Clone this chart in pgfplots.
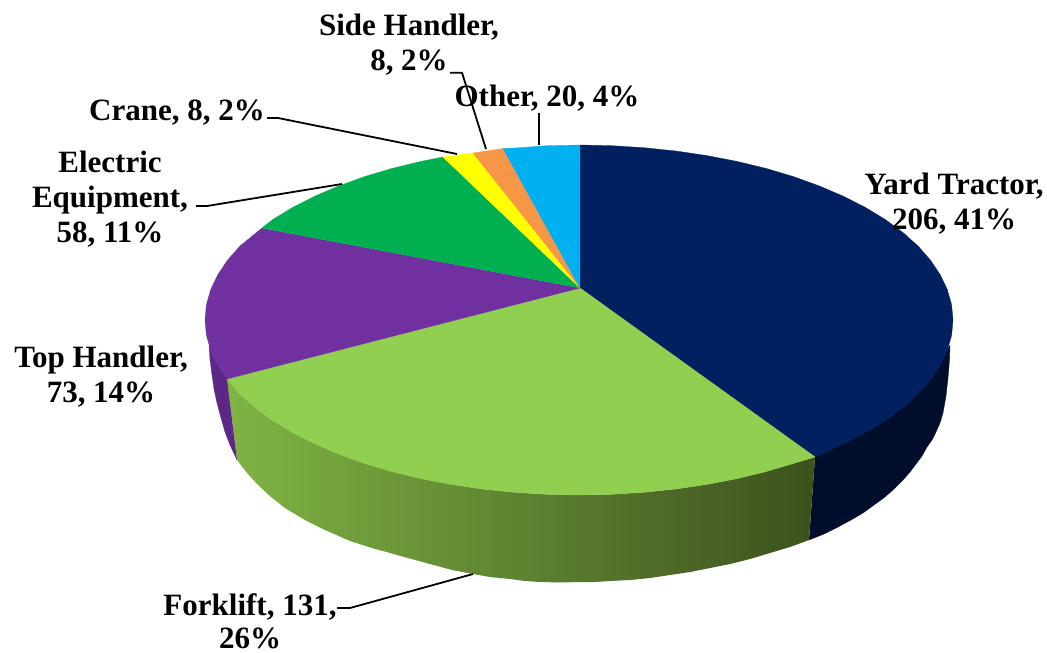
\documentclass[border=0pt]{standalone}
\usepackage{pgfplots}
\pgfplotsset{compat=1.18}
\usepackage{fontspec}
\setmainfont{Liberation Serif}
\definecolor{navy}{HTML}{002060}
\definecolor{navyside}{HTML}{000D2B}
\definecolor{lime}{HTML}{90CF50}
\definecolor{limeL}{HTML}{80B444}
\definecolor{limeR}{HTML}{3C511D}
\definecolor{purp}{HTML}{7030A0}
\definecolor{purpside}{HTML}{5C2785}
\definecolor{grn}{HTML}{00B050}
\definecolor{yel}{HTML}{FFFF00}
\definecolor{org}{HTML}{F79646}
\definecolor{sky}{HTML}{00B0F0}
\begin{document}
\begin{tikzpicture}
\begin{axis}[
  scale only axis, width=1047pt, height=653pt,
  xmin=0, xmax=1047, ymin=0, ymax=653, y dir=reverse,
  hide axis, no markers, clip=false,
  every axis plot/.append style={line join=round},
]
% keeps the whole frame in the picture
\addplot[draw=none] coordinates {(0,0)(1047,653)};
% sides
\addplot[fill=navyside, draw=navyside, line width=0.3pt] coordinates {
 (815,457)(843.5,443.7)(865.5,432.5)(885.4,420.4)(902.9,407.5)(918,394)(930.4,379.9)(940.2,365.3)(947.3,350.4)(950,345)
 (949.5,360)(948,378)(946,396)(943,413)(940,423)(936,432)(932,440)(927,447)(922,456)(916,464)(910,472)(903,480)
 (894,489)(885,497)(874,505)(863,513)(851,520)(838,527)(824,534)(809,540)};
\addplot[draw=none, left color=limeL, right color=limeR] coordinates {
 (227,379)(240,394)(255.1,407.5)(272.6,420.4)(292.5,432.5)(314.5,443.7)(338.6,454)(364.5,463.4)(392,471.6)(421,478.6)
 (451.1,484.4)(482.2,489)(514.1,492.3)(546.4,494.3)(579,495)(611.6,494.3)(643.9,492.3)(675.8,489)(706.9,484.4)
 (737,478.6)(766,471.6)(793.5,463.4)(815,457)
 (809,540)(790,547)(770,553)(750,559)(730,564)(710,568)(690,572)(670,575)(650,578)(630,580)(610,581)(595,582)(580,582)
 (560,582.5)(540,582)(525,581)(510,579)(490,577)(473,574)(452,570)(430,564)(406,557.5)(383,551)(375,549)(350,541)
 (325,530)(305,520)(285,508)(271,497)(258,485)(247,473)(237,460)};
\addplot[fill=purpside, draw=purpside, line width=0.3pt] coordinates {
 (227,379)(217.8,365.3)(210.7,350.4)(209,345)(210,360)(212,375)(214,389)(217,403)(221,418)(225,432)(230,445)(237,460)};
% top face
\addplot[fill=navy, draw=navy, line width=0.3pt] coordinates {
 (580,288)(580,145)(611.6,145.7)(643.9,147.7)(675.8,151)(706.9,155.6)(737,161.4)(766,168.4)(793.5,176.6)(819.4,186)
 (843.5,196.3)(865.5,207.5)(885.4,219.6)(902.9,232.5)(918,246)(930.4,260.1)(940.2,274.7)(947.3,289.6)(951.6,304.7)(953,320)
 (951.6,335.3)(947.3,350.4)(940.2,365.3)(930.4,379.9)(918,394)(902.9,407.5)(885.4,420.4)(865.5,432.5)(843.5,443.7)(815,457)};
\addplot[fill=lime, draw=lime, line width=0.3pt] coordinates {
 (580,288)(815,457)(793.5,463.4)(766,471.6)(737,478.6)(706.9,484.4)(675.8,489)(643.9,492.3)(611.6,494.3)(579,495)
 (546.4,494.3)(514.1,492.3)(482.2,489)(451.1,484.4)(421,478.6)(392,471.6)(364.5,463.4)(338.6,454)(314.5,443.7)(292.5,432.5)
 (272.6,420.4)(255.1,407.5)(240,394)(227,379)};
\addplot[fill=purp, draw=purp, line width=0.3pt] coordinates {
 (580,288)(227,379)(217.8,365.3)(210.7,350.4)(206.4,335.3)(205,320)(206.4,304.7)(210.7,289.6)(217.8,274.7)(227.6,260.1)(240,246)(262,228)};
\addplot[fill=grn, draw=grn, line width=0.3pt] coordinates {
 (580,288)(262,228)(272.6,219.6)(292.5,207.5)(314.5,196.3)(338.6,186)(364.5,176.6)(392,168.4)(421,161.4)(443,157)};
\addplot[fill=yel, draw=yel, line width=0.3pt] coordinates {
 (580,288)(443,157)(473,153)};
\addplot[fill=org, draw=org, line width=0.3pt] coordinates {
 (580,288)(473,153)(503,148.5)};
\addplot[fill=sky, draw=sky, line width=0.3pt] coordinates {
 (580,288)(503,148.5)(515,148)(546.4,145.7)(580,145)};
% leader lines
\addplot[black, line width=1.8pt] coordinates {(267,118)(278,118)(457,154)};
\addplot[black, line width=1.8pt] coordinates {(196,206)(207,206)(342,184)};
\addplot[black, line width=1.8pt] coordinates {(450,72.7)(462,72.7)(486,149)};
\addplot[black, line width=1.8pt] coordinates {(539,113)(539,145)};
\addplot[black, line width=1.8pt] coordinates {(337,608)(350,608)(473,574)};
% labels
\tikzset{lab/.style={align=center, inner sep=0pt, font=\fontsize{31}{35}\selectfont\bfseries}}
\node[lab] at (axis cs:954,204) {Yard Tractor,\\206, 41\%};
\node[lab] at (axis cs:409,44.5) {Side Handler,\\8, 2\%};
\node[lab] at (axis cs:547,98) {Other, 20, 4\%};
\node[lab] at (axis cs:177,112.5) {Crane, 8, 2\%};
\node[lab] at (axis cs:110,199) {Electric\\Equipment,\\58, 11\%};
\node[lab] at (axis cs:101,377) {Top Handler,\\73, 14\%};
\node[lab, font=\fontsize{31}{33}\selectfont\bfseries] at (axis cs:250,621) {Forklift, 131,\\26\%};
\end{axis}
\end{tikzpicture}
\end{document}
